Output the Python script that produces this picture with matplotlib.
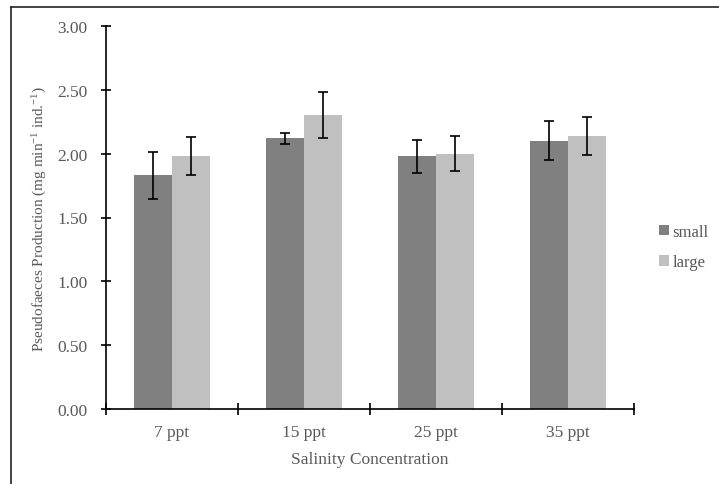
import matplotlib
matplotlib.use("Agg")
import matplotlib.pyplot as plt
import numpy as np
from matplotlib.lines import Line2D

# Pseudofaeces production by salinity and size class
categories = ["7 ppt", "15 ppt", "25 ppt", "35 ppt"]
small_vals = [1.83, 2.12, 1.98, 2.10]
small_err = [0.185, 0.045, 0.128, 0.153]
large_vals = [1.98, 2.30, 2.00, 2.14]
large_err = [0.148, 0.18, 0.137, 0.149]
y_ticks = [0.0, 0.5, 1.0, 1.5, 2.0, 2.5, 3.0]

TEXT = "#595959"
plt.rcParams["font.family"] = ["Liberation Serif", "DejaVu Serif"]
plt.rcParams["mathtext.fontset"] = "custom"
plt.rcParams["mathtext.rm"] = "Liberation Serif"
plt.rcParams["mathtext.it"] = "Liberation Serif:italic"

fig = plt.figure(figsize=(7.19, 4.85), dpi=100)
ax = fig.add_axes([106 / 719, 75 / 485, 528 / 719, 383 / 485])

x = np.arange(len(categories))
w = 0.288
ax.bar(x - w / 2, small_vals, w, color="#808080", label="small", zorder=2)
ax.bar(x + w / 2, large_vals, w, color="#c0c0c0", label="large", zorder=2)
ax.errorbar(x - w / 2, small_vals, yerr=small_err, fmt="none", ecolor="black",
            elinewidth=1.2, capsize=3.5, capthick=1.2, zorder=3)
ax.errorbar(x + w / 2, large_vals, yerr=large_err, fmt="none", ecolor="black",
            elinewidth=1.2, capsize=3.5, capthick=1.2, zorder=3)

ax.set_xlim(-0.5, len(categories) - 0.5)
ax.set_ylim(0, 3.0)
ax.set_yticks(y_ticks)
ax.set_yticklabels([f"{v:.2f}" for v in y_ticks])
ax.set_xticks(x)
ax.set_xticklabels(categories)
ax.set_xticks(np.arange(len(categories) + 1) - 0.5, minor=True)
ax.tick_params(axis="x", which="major", length=0, pad=11, labelsize=12.5, labelcolor=TEXT)
ax.tick_params(axis="x", which="minor", direction="inout", length=8, width=1.2, color="black")
ax.tick_params(axis="y", which="major", direction="inout", length=7, width=1.2,
               pad=10, labelsize=12.5, labelcolor=TEXT)

for s in ["top", "right"]:
    ax.spines[s].set_visible(False)
for s in ["left", "bottom"]:
    ax.spines[s].set_linewidth(1.2)
    ax.spines[s].set_color("black")

ax.set_ylabel(r"Pseudofaeces Production (mg min$^{\mathregular{-1}}$ ind.$^{\mathregular{-1}}$)",
              fontsize=11, color=TEXT)
ax.yaxis.set_label_coords(-0.108, 0.5)
ax.set_xlabel("Salinity Concentration", fontsize=12.5, color=TEXT)
ax.xaxis.set_label_coords(0.5, -0.11)

fig.legend(loc="center left", bbox_to_anchor=(659 / 719, 1 - 248 / 485), frameon=False,
           fontsize=12, labelcolor=TEXT, handlelength=0.6, handleheight=0.6,
           handletextpad=0.2, labelspacing=0.85, borderpad=0, borderaxespad=0)

# outer chart border (cropped on right and bottom)
fig.add_artist(Line2D([11 / 719, 1], [1 - 8 / 485, 1 - 8 / 485], color="#222222", lw=1.2,
                      transform=fig.transFigure))
fig.add_artist(Line2D([11 / 719, 11 / 719], [0, 1 - 8 / 485], color="#222222", lw=1.2,
                      transform=fig.transFigure))

fig.savefig("out.png", dpi=100)
